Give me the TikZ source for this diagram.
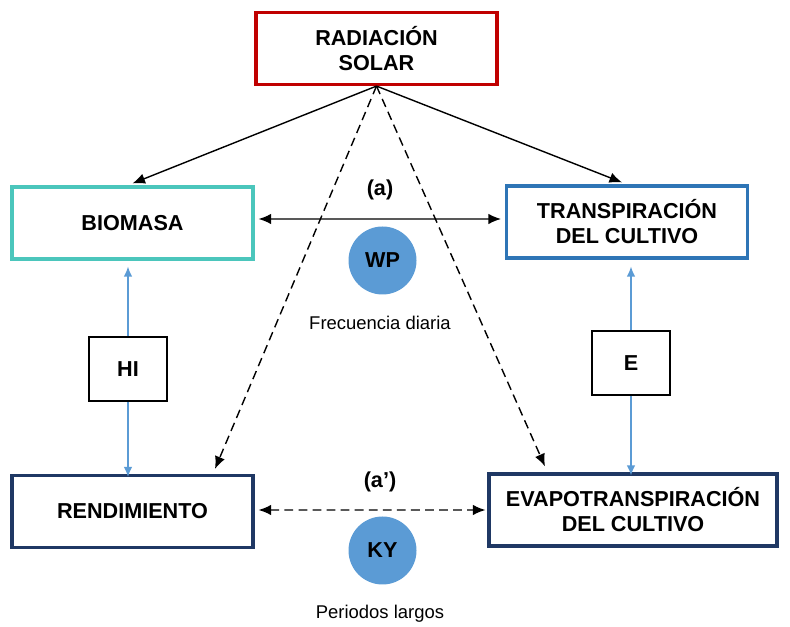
\documentclass[tikz,border=0pt]{standalone}
\usepackage{fontspec}
\setmainfont{Liberation Sans}
\usepackage{tikz}
\usetikzlibrary{arrows.meta,calc}
\usepackage{xcolor}
\definecolor{solarred}{RGB}{192,0,0}
\definecolor{biomteal}{RGB}{75,198,188}
\definecolor{transpblue}{RGB}{46,117,182}
\definecolor{deepnavy}{RGB}{31,56,100}
\definecolor{coefblue}{RGB}{91,155,213}
\newcommand{\bigtxt}{\fontsize{12.3}{14.2}\selectfont\bfseries}
\newcommand{\smalltxt}{\fontsize{10.5}{12}\selectfont}

\begin{document}
\begin{tikzpicture}[
    >={Latex[length=2.5mm,width=2.1mm]},
    box/.style={draw,line width=1.8pt,minimum width=4.82cm,minimum height=1.44cm,
      align=center,font=\bigtxt,inner sep=2pt},
    coefbox/.style={draw,line width=0.9pt,minimum width=1.56cm,minimum height=1.28cm,
      font=\bigtxt},
    coef/.style={circle,fill=coefblue,minimum size=1.36cm,inner sep=0pt,font=\bigtxt},
    link/.style={black,line width=0.8pt},
    dlink/.style={link,dash pattern=on 5pt off 3pt},
    bluelink/.style={coefblue,line width=0.75pt,>={Latex[length=2mm,width=1.7mm]}}
  ]
  \useasboundingbox (0,0) rectangle (15.8,12.54);
  % Boxes
  \node[box,draw=solarred] (rad) at (7.53,11.57) {RADIACIÓN\\SOLAR};
  \node[box,draw=biomteal] (bio) at (2.65,8.08) {BIOMASA};
  \node[box,draw=transpblue] (trans) at (12.54,8.10) {TRANSPIRACIÓN\\DEL CULTIVO};
  \node[box,draw=deepnavy] (rend) at (2.65,2.31) {RENDIMIENTO};
  \node[box,draw=deepnavy,minimum width=5.76cm] (evap) at (12.66,2.34)
    {EVAPOTRANSPIRACIÓN\\DEL CULTIVO};
  % Coefficient boxes
  \node[coefbox] (hi) at (2.56,5.16) {HI};
  \node[coefbox] (e) at (12.62,5.28) {E};
  % Coefficient circles
  \node[coef] (wp) at (7.65,7.33) {WP};
  \node[coef] (ky) at (7.65,1.53) {KY};
  % Labels
  \node[font=\bigtxt] (a) at (7.6,8.74) {(a)};
  \node[font=\bigtxt] (a2) at (7.6,2.9) {(a’)};
  \node[font=\smalltxt] (daily) at (7.6,6.08) {Frecuencia diaria};
  \node[font=\smalltxt] (long) at (7.6,0.27) {Periodos largos};
  % End points
  \coordinate (rendtip) at ($(rend.north)+(1.65,0.1)$);
  \coordinate (evaptip) at ($(evap.north)+(-1.76,0.12)$);
  \coordinate (transtip) at ($(trans.north)+(-0.1,0.04)$);
  % Solar arrows
  \draw[->,link] (rad.south) -- ([yshift=0.04cm]bio.north);
  \draw[->,link] (rad.south) -- (transtip);
  \draw[->,dlink] (rad.south) -- (rendtip);
  \draw[->,dlink] (rad.south) -- (evaptip);
  % Links between boxes
  \draw[<->,link,shorten <=0.08cm,shorten >=0.08cm]
    ([yshift=0.08cm]bio.east) -- ([yshift=0.06cm]trans.west);
  \draw[<->,dlink,shorten <=0.08cm,shorten >=0.04cm]
    ([yshift=0.03cm]rend.east) -- (evap.west);
  % HI and E
  \draw[->,bluelink,shorten >=0.12cm] (hi.north) -- (hi.north |- bio.south);
  \draw[->,bluelink,shorten >=-0.06cm] (hi.south) -- (hi.south |- rend.north);
  \draw[->,bluelink,shorten >=0.14cm] (e.north) -- (e.north |- trans.south);
  \draw[->,bluelink,shorten >=-0.06cm] (e.south) -- (e.south |- evap.north);
\end{tikzpicture}
\end{document}
